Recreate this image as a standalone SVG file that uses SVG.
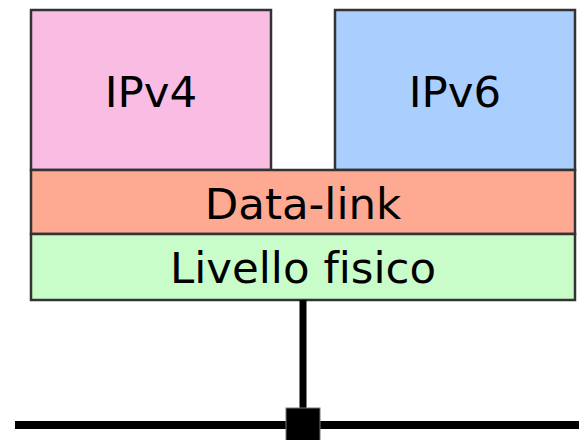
<svg xmlns="http://www.w3.org/2000/svg" width="579" height="440" viewBox="0 0 579 440">
  <style>
    .box { stroke: #333333; stroke-width: 2.5; }
    .lbl { font-family: "DejaVu Sans", Verdana, sans-serif; font-size: 43.5px; fill: #000000; text-anchor: middle; font-variant-ligatures: none; font-feature-settings: "liga" 0; }
  </style>
  <rect x="0" y="0" width="579" height="440" fill="#ffffff"/>
  <g id="ipv4">
    <rect class="box" x="31" y="10" width="240" height="160" fill="#F9BDE3"/>
    <text class="lbl" x="151" y="107">IPv4</text>
  </g>
  <g id="ipv6">
    <rect class="box" x="335" y="10" width="240" height="160" fill="#AACFFF"/>
    <text class="lbl" x="455" y="107">IPv6</text>
  </g>
  <g id="datalink">
    <rect class="box" x="31" y="170" width="544" height="64" fill="#FEAA92"/>
    <text class="lbl" x="303" y="219">Data-link</text>
  </g>
  <g id="fisico">
    <rect class="box" x="31" y="234" width="544" height="66" fill="#C8FCC8"/>
    <text class="lbl" x="303" y="283">Livello fisico</text>
  </g>
  <g id="connectors">
    <line x1="303" y1="300" x2="303" y2="420" stroke="#000000" stroke-width="7"/>
    <line x1="15" y1="425" x2="579" y2="425" stroke="#000000" stroke-width="8"/>
    <rect x="286" y="408" width="34" height="34" fill="#000000" stroke="#777777" stroke-width="1"/>
  </g>
</svg>
